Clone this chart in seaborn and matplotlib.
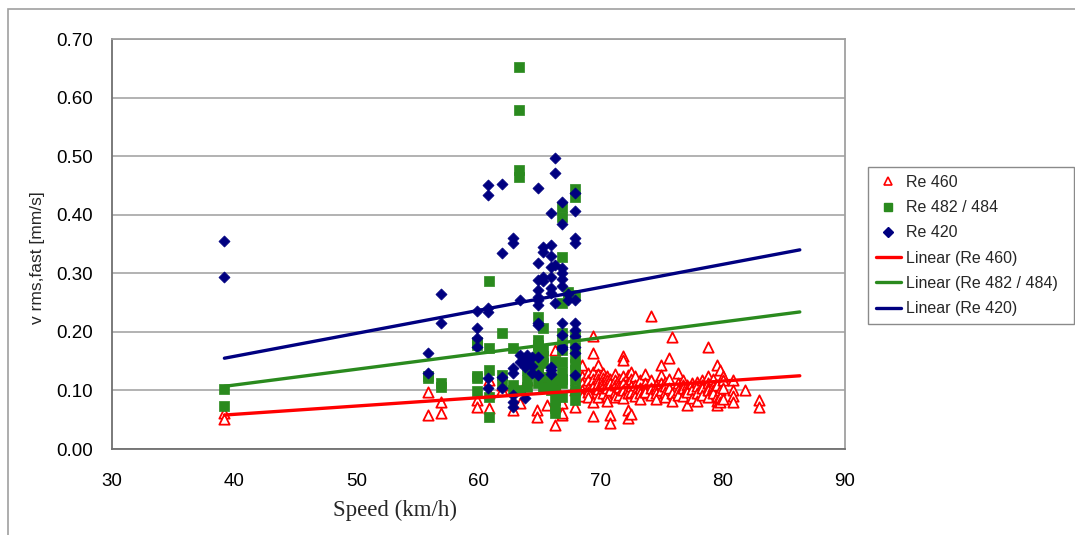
import numpy as np
import pandas as pd
import matplotlib
matplotlib.use("Agg")
import matplotlib.pyplot as plt
import seaborn as sns
from matplotlib.lines import Line2D
from matplotlib.patches import Rectangle

# ---------------- data ----------------
re420_x = [39.2, 39.2, 55.9, 55.9, 56.9, 56.9, 59.9, 59.9, 59.9, 59.9,
           60.8, 60.8, 60.8, 60.8, 60.8, 60.8, 61.9, 61.9, 61.9, 61.9,
           62.8, 62.8, 62.8, 62.8, 62.8, 62.8, 62.8, 63.4, 63.4, 63.4,
           63.8, 63.8, 63.8, 64.0, 64.0, 64.4, 64.4, 64.4,
           64.9, 64.9, 64.9, 64.9, 64.9, 64.9, 64.9, 64.9, 64.9, 64.9, 64.9,
           65.3, 65.3, 65.3, 65.3,
           65.9, 65.9, 65.9, 65.9, 65.9, 65.9, 65.9, 65.9, 65.9, 65.9,
           66.3, 66.3, 66.3, 66.3,
           66.8, 66.8, 66.8, 66.8, 66.8, 66.8, 66.8, 66.8, 66.8, 66.8,
           67.3, 67.3,
           67.9, 67.9, 67.9, 67.9, 67.9, 67.9, 67.9, 67.9, 67.9, 67.9, 67.9]
re420_y = [0.355, 0.293, 0.164, 0.130, 0.265, 0.215, 0.236, 0.207, 0.190, 0.175,
           0.450, 0.434, 0.240, 0.234, 0.121, 0.104, 0.452, 0.334, 0.123, 0.104,
           0.360, 0.352, 0.138, 0.130, 0.092, 0.080, 0.072, 0.254, 0.149, 0.160,
           0.155, 0.140, 0.087, 0.160, 0.148, 0.157, 0.142, 0.130,
           0.446, 0.317, 0.289, 0.271, 0.260, 0.254, 0.246, 0.215, 0.157, 0.126, 0.212,
           0.345, 0.336, 0.294, 0.286,
           0.403, 0.348, 0.330, 0.311, 0.294, 0.275, 0.266, 0.140, 0.135, 0.128,
           0.497, 0.471, 0.314, 0.250,
           0.422, 0.384, 0.309, 0.300, 0.290, 0.278, 0.215, 0.195, 0.175, 0.170,
           0.265, 0.254,
           0.437, 0.406, 0.360, 0.352, 0.254, 0.215, 0.203, 0.193, 0.175, 0.164, 0.126]

re482_x = [39.2, 39.2, 55.9, 55.9, 56.9, 56.9, 59.9, 59.9, 59.9, 59.9, 59.9,
           60.9, 60.9, 60.9, 60.9, 60.9, 61.9, 61.9, 61.9, 62.8, 62.8, 62.8,
           63.3, 63.3, 63.3, 63.3, 63.4, 64.0, 64.0, 64.0,
           64.9, 64.9, 64.9, 64.9, 64.9, 64.9, 64.9, 64.9,
           65.3, 65.3, 65.3, 65.3, 65.3, 65.3, 65.9, 65.9, 65.9,
           66.3, 66.3, 66.3, 66.3, 66.3, 66.3,
           66.8, 66.8, 66.8, 66.8, 66.8, 66.8, 66.8, 66.8, 66.8, 66.8, 66.8, 66.8,
           67.3, 67.3,
           67.9, 67.9, 67.9, 67.9, 67.9, 67.9, 67.9, 67.9, 67.9, 67.9, 67.9]
re482_y = [0.103, 0.074, 0.125, 0.121, 0.113, 0.106, 0.183, 0.178, 0.125, 0.121, 0.099,
           0.287, 0.172, 0.135, 0.089, 0.055, 0.198, 0.126, 0.113, 0.172, 0.109, 0.100,
           0.652, 0.579, 0.476, 0.465, 0.100, 0.135, 0.118, 0.106,
           0.226, 0.186, 0.178, 0.169, 0.152, 0.140, 0.130, 0.113,
           0.207, 0.169, 0.158, 0.147, 0.123, 0.106, 0.123, 0.110, 0.100,
           0.070, 0.062, 0.084, 0.100, 0.118, 0.150,
           0.413, 0.396, 0.328, 0.249, 0.198, 0.180, 0.169, 0.149, 0.132, 0.120, 0.113, 0.088,
           0.268, 0.259,
           0.444, 0.430, 0.263, 0.193, 0.174, 0.157, 0.145, 0.135, 0.118, 0.100, 0.084]

re460_x = [39.2, 39.2, 55.9, 55.9, 56.9, 56.9, 59.9, 59.9, 60.9, 60.9, 60.9,
           61.9, 61.9, 62.8, 63.4, 64.0, 64.8, 64.8, 65.2, 65.6, 66.3, 66.3, 66.3,
           66.8, 66.8, 66.8, 67.9, 67.9, 67.9, 68.5, 68.5, 68.5, 68.5, 68.5,
           69.0, 69.0, 69.0, 69.0, 69.0,
           69.4, 69.4, 69.4, 69.4, 69.4, 69.4, 69.4,
           69.8, 69.8, 69.8, 69.8, 69.8, 69.8,
           70.2, 70.2, 70.2, 70.2, 70.2, 70.5, 70.5, 70.5, 70.5, 70.5, 70.5,
           70.8, 70.8, 70.8, 70.8, 70.8, 71.2, 71.2, 71.2, 71.2, 71.2,
           71.5, 71.5, 71.5, 71.5,
           71.8, 71.8, 71.8, 71.8, 71.8, 71.8, 72.2, 72.2, 72.2, 72.2, 72.2, 72.2,
           72.5, 72.5, 72.5, 72.5, 72.5, 72.8, 72.8, 72.8, 72.8, 73.2, 73.2, 73.2, 73.2,
           73.6, 73.6, 73.6, 73.6, 74.1, 74.1, 74.1, 74.1, 74.5, 74.5, 74.5, 74.5,
           74.9, 74.9, 74.9, 74.9, 75.3, 75.3, 75.3, 75.3, 75.6, 75.6, 75.6,
           75.8, 75.8, 75.8, 76.3, 76.3, 76.3, 76.3, 76.7, 76.7, 76.7, 76.7,
           77.1, 77.1, 77.1, 77.1, 77.5, 77.5, 77.5, 77.9, 77.9, 77.9, 77.9,
           78.3, 78.3, 78.3, 78.3,
           78.8, 78.8, 78.8, 78.8, 78.8, 78.8, 79.2, 79.2, 79.2, 79.2,
           79.5, 79.5, 79.5, 79.5, 79.5, 79.8, 79.8, 79.8, 79.8,
           80.0, 80.0, 80.0, 80.0, 80.8, 80.8, 80.8, 80.8, 81.8, 83.0, 83.0]
re460_y = [0.061, 0.051, 0.097, 0.058, 0.080, 0.062, 0.084, 0.072, 0.118, 0.095, 0.070,
           0.109, 0.100, 0.067, 0.078, 0.118, 0.067, 0.055, 0.123, 0.075, 0.169, 0.041, 0.110,
           0.078, 0.058, 0.062, 0.072, 0.100, 0.110, 0.143, 0.125, 0.112, 0.100, 0.090,
           0.130, 0.118, 0.105, 0.098, 0.088,
           0.193, 0.164, 0.132, 0.120, 0.108, 0.080, 0.057,
           0.143, 0.128, 0.120, 0.112, 0.102, 0.088,
           0.130, 0.122, 0.115, 0.108, 0.095, 0.125, 0.118, 0.111, 0.105, 0.090, 0.082,
           0.120, 0.113, 0.100, 0.058, 0.044, 0.128, 0.118, 0.110, 0.097, 0.088,
           0.120, 0.112, 0.106, 0.092,
           0.158, 0.152, 0.124, 0.112, 0.100, 0.087, 0.126, 0.115, 0.104, 0.095, 0.067, 0.053,
           0.132, 0.120, 0.108, 0.098, 0.060, 0.125, 0.110, 0.098, 0.090, 0.118, 0.105, 0.095, 0.085,
           0.128, 0.112, 0.103, 0.097, 0.227, 0.118, 0.104, 0.093, 0.110, 0.102, 0.095, 0.086,
           0.143, 0.126, 0.112, 0.100, 0.115, 0.108, 0.097, 0.088, 0.155, 0.120, 0.105,
           0.192, 0.095, 0.082, 0.130, 0.112, 0.100, 0.092, 0.118, 0.110, 0.104, 0.090,
           0.110, 0.102, 0.098, 0.075, 0.112, 0.102, 0.087, 0.115, 0.108, 0.096, 0.082,
           0.118, 0.110, 0.104, 0.093,
           0.175, 0.125, 0.112, 0.105, 0.100, 0.088, 0.120, 0.108, 0.100, 0.095,
           0.143, 0.110, 0.090, 0.082, 0.075, 0.135, 0.100, 0.088, 0.080,
           0.125, 0.118, 0.105, 0.085, 0.118, 0.100, 0.090, 0.080, 0.100, 0.084, 0.072]

# trend lines (start/end of each Excel linear trendline)
trend_x = [39.2, 86.3]
trend460_y = [0.058, 0.125]
trend482_y = [0.107, 0.234]
trend420_y = [0.155, 0.340]

x_ticks = [30, 40, 50, 60, 70, 80, 90]
y_ticks = [0.0, 0.1, 0.2, 0.3, 0.4, 0.5, 0.6, 0.7]

# ---------------- style ----------------
sns.set_style("white")
plt.rcParams['font.family'] = ['Liberation Sans', 'DejaVu Sans']

RED = "#FF0000"
GREEN = "#2A8A1E"
BLUE = "#000080"

fig = plt.figure(figsize=(10.75, 5.35), dpi=100)
W, H = 1075, 535
ax = fig.add_axes([112 / W, 1 - 449 / H, (845 - 112) / W, (449 - 39) / H])

# outer figure border
fig.add_artist(Rectangle((8 / W, -0.1), 1.2, 1.1 - 9 / H, transform=fig.transFigure,
                         fill=False, edgecolor="#a0a0a0", linewidth=1.2))

df460 = pd.DataFrame({"x": re460_x, "y": re460_y})
df482 = pd.DataFrame({"x": re482_x, "y": re482_y})
df420 = pd.DataFrame({"x": re420_x, "y": re420_y})

sns.scatterplot(data=df460, x="x", y="y", ax=ax, marker="^", s=55,
                facecolor="white", edgecolor=RED, linewidth=1.3, zorder=3)
sns.scatterplot(data=df482, x="x", y="y", ax=ax, marker="s", s=45,
                color=GREEN, edgecolor=GREEN, linewidth=0.5, zorder=4)
sns.scatterplot(data=df420, x="x", y="y", ax=ax, marker="D", s=32,
                color=BLUE, edgecolor=BLUE, linewidth=0.5, zorder=5)

for ty, c in [(trend460_y, RED), (trend482_y, GREEN), (trend420_y, BLUE)]:
    sns.lineplot(x=trend_x, y=ty, ax=ax, color=c, linewidth=2.4, zorder=6)

ax.set_xlim(30, 90)
ax.set_ylim(0, 0.70)
ax.set_xticks(x_ticks)
ax.set_yticks(y_ticks)
ax.set_yticklabels([f"{v:.2f}" for v in y_ticks])
ax.tick_params(axis="both", labelsize=13.5, colors="#000000", length=5,
               width=1, direction="out", color="#808080")
ax.tick_params(axis="y", pad=9)
ax.tick_params(axis="x", pad=12)
ax.grid(axis="y", color="#a6a6a6", linewidth=1.2)
ax.grid(axis="x", visible=False)
ax.set_axisbelow(True)
for side in ["top", "right"]:
    ax.spines[side].set_visible(True)
    ax.spines[side].set_color("#a0a0a0")
    ax.spines[side].set_linewidth(1.3)
for side in ["left", "bottom"]:
    ax.spines[side].set_color("#707070")
    ax.spines[side].set_linewidth(1.3)

ax.set_xlabel("Speed (km/h)", fontsize=16.5, family=["Liberation Serif"])
ax.xaxis.set_label_coords((395 - 112) / 733, (449 - 500) / 410)
ax.set_ylabel("v rms,fast [mm/s]", fontsize=12.5)
ax.yaxis.set_label_coords((45 - 112) / 733, (449 - 258) / 410)

handles = [
    Line2D([], [], linestyle="none", marker="^", markersize=6, markerfacecolor="white",
           markeredgecolor=RED, markeredgewidth=1.2),
    Line2D([], [], linestyle="none", marker="s", markersize=6, color=GREEN),
    Line2D([], [], linestyle="none", marker="D", markersize=5, color=BLUE),
    Line2D([], [], color=RED, linewidth=2.4),
    Line2D([], [], color=GREEN, linewidth=2.4),
    Line2D([], [], color=BLUE, linewidth=2.4),
]
labels = ["Re 460", "Re 482 / 484", "Re 420",
          "Linear (Re 460)", "Linear (Re 482 / 484)", "Linear (Re 420)"]
leg = fig.legend(handles, labels, loc="upper left",
                 bbox_to_anchor=(868 / W, 1 - 167 / H, (1074 - 868) / W, 0.0),
                 mode="expand", fontsize=11.5,
                 frameon=True, fancybox=False, framealpha=1, edgecolor="#8a8a8a",
                 handlelength=1.55, handletextpad=0.35, labelspacing=0.64,
                 borderpad=0.5, borderaxespad=0)
leg.get_frame().set_linewidth(1.0)

fig.savefig("out.png", dpi=100)
